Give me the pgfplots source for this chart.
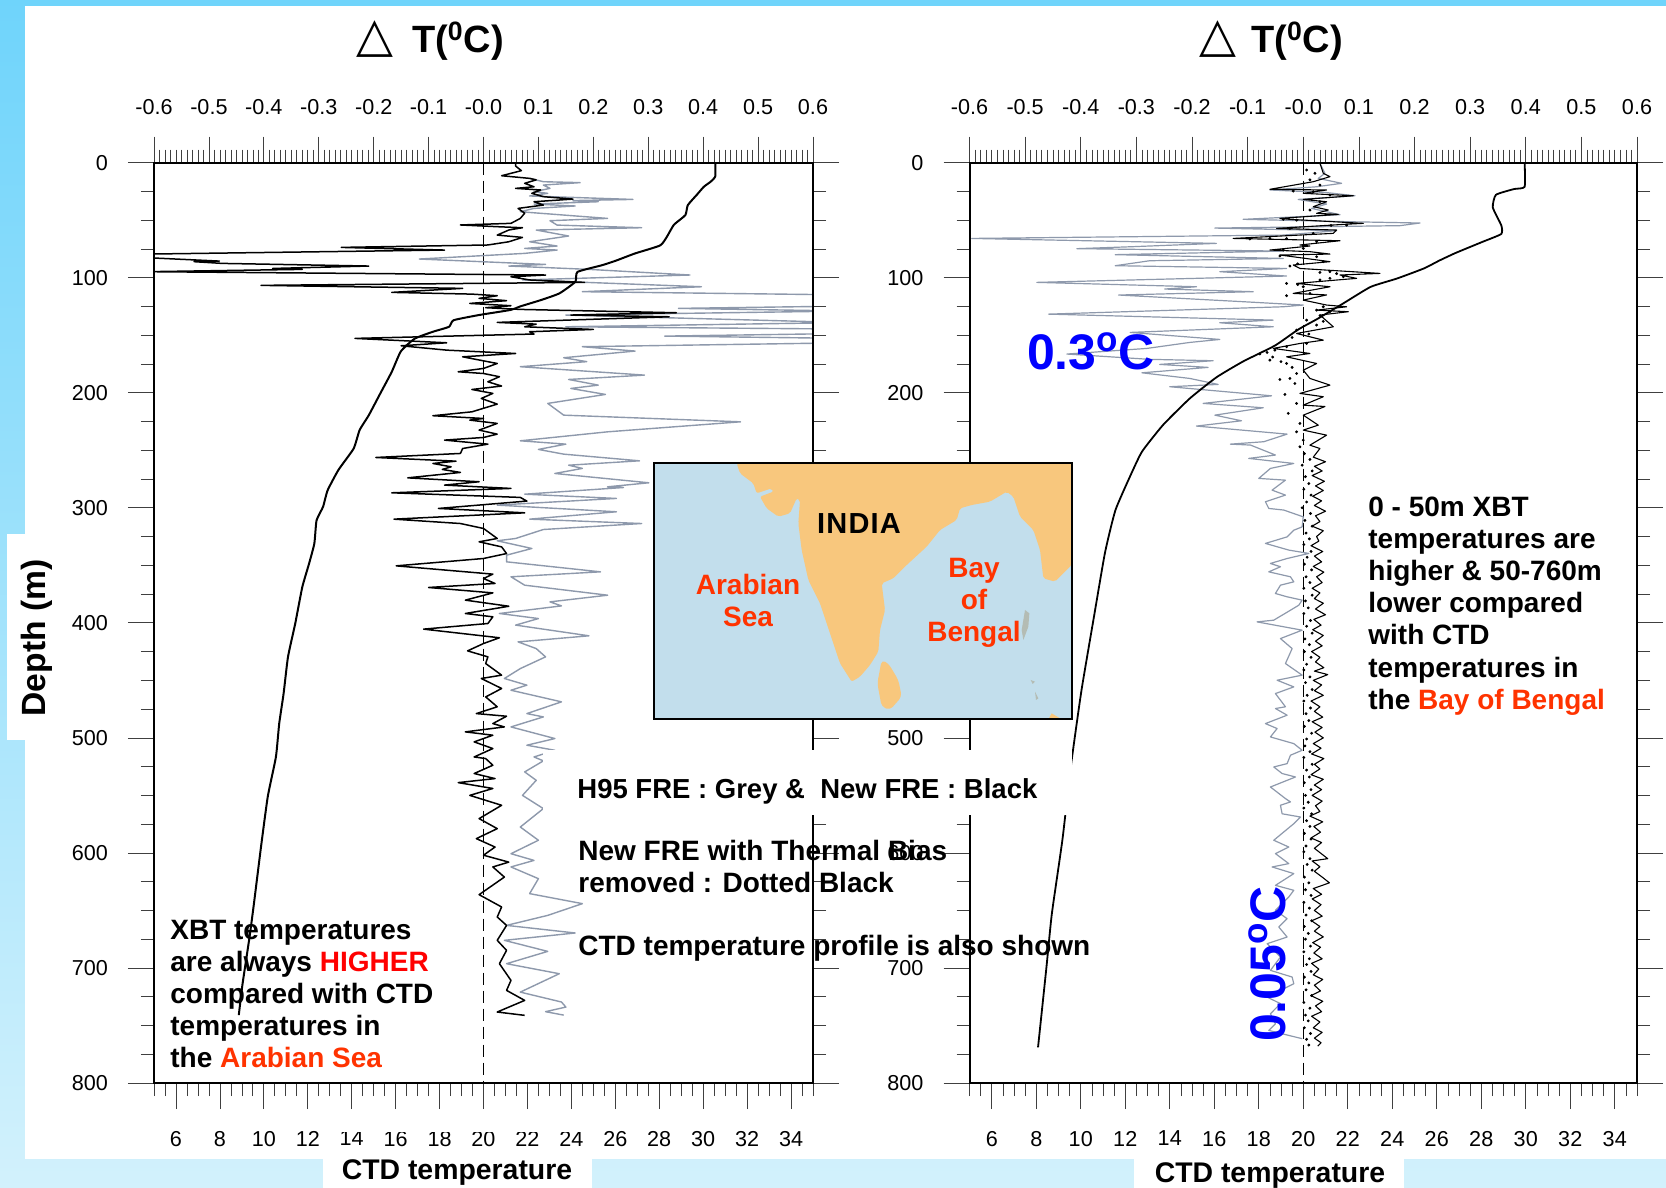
\documentclass[border=0pt]{standalone}
\usepackage{fontspec}
\setmainfont{Liberation Sans}
\newfontfamily\djv{DejaVu Sans}
\usepackage{pgfplots}
\pgfplotsset{compat=1.18}
\definecolor{skytop}{HTML}{6FD4FB}
\definecolor{skybot}{HTML}{D2F1FC}
\definecolor{greyline}{HTML}{8E99AC}
\definecolor{sea}{HTML}{C2DEEC}
\definecolor{land}{HTML}{F8C77D}
\definecolor{orng}{HTML}{FF3300}
\definecolor{isl}{HTML}{B4BCB4}
\newcommand{\tb}{\fontsize{14}{16}\selectfont\bfseries}
\pgfplotsset{
 panel/.style={scale only axis, height=460.2pt, y dir=reverse, ymin=0, ymax=800,
   tick align=outside, major tick length=13pt, minor tick length=6.5pt,
   axis line style={line width=1pt},
   every tick/.style={line width=0.35pt, color=black!75},
   tick label style={font=\fontsize{10.8}{12}\selectfont},
   clip=true},
 bottomaxis/.style={panel, xmin=5, xmax=35,
   xtick={6,8,...,34},
   xticklabels={6,8,10,12,14,16,18,20,22,24,26,28,30,32,34},
   minor xtick={5,5.5,...,35},
   xtick pos=lower, xticklabel pos=lower,
   x tick label style={yshift=-7.5pt},
   ytick={0,100,...,800},
   yticklabels={0,100,200,300,400,500,600,700,800},
   minor ytick={25,50,...,775},
   ytick pos=both, yticklabel pos=left,
   y tick label style={xshift=-6.5pt}},
 topaxis/.style={panel, xmin=-0.6, xmax=0.6,
   xtick={-0.6,-0.5,...,0.61},
   xticklabels={-0.6,-0.5,-0.4,-0.3,-0.2,-0.1,-0.0,0.1,0.2,0.3,0.4,0.5,0.6},
   minor x tick num=9,
   xtick pos=upper, xticklabel pos=upper,
   x tick label style={yshift=7.5pt},
   ytick=\empty, axis line style={line width=1pt}},
}
\begin{document}
\begin{tikzpicture}
\path[use as bounding box] (0,0) rectangle (833pt,594pt);
\begin{scope}[x=0.5pt,y=-0.5pt,yshift=594pt]
\shade[top color=skytop,bottom color=skybot] (0,0) rectangle (1666,1188);
\fill[white] (25,6) rectangle (1666,1159);
\end{scope}

%--------------- LEFT PANEL ----------------
\begin{axis}[topaxis, width=329.5pt, at={(77pt,52.5pt)}, anchor=south west]
\addplot[black, line width=0.4pt, dash pattern=on 6pt off 3pt] coordinates {(0,0)(0,800)};
\addplot[greyline, line width=0.7pt, line join=round] coordinates {
(.084,13.7)(.109,16.6)(.176,17.4)(.109,19.5)(.121,22.4)(.092,25.3)(.117,26.7)(.084,29)(.272,32)(.163,33)(.209,34)(.092,36)(.167,37.7)(.092,39.8)(.067,42.7)(.226,48.5)(.121,50.5)(.134,54.3)(.288,56.6)(.096,58.6)(.155,63.8)(.084,68.8)(.134,72.5)(.075,74.6)(.134,76)(.075,78.9)(-.117,83.8)(.113,88.5)(.046,89.9)(.192,92.8)(.376,97.7)(.071,102)(.397,107.9)(.18,112.2)(.66,115)(.66,124.7)(.355,126.7)(.66,129)(.15,132.5)(.66,139)(.15,142.7)(.66,144.7)(.66,148.5)(.33,150.8)(.66,152.8)(.66,156.6)(.18,160)(.276,163.8)(.146,169.6)(.188,173)(.067,177.4)(.293,184.7)(.155,188.5)(.209,193.4)(.159,196.3)(.222,201.5)(.117,209.3)(.146,219.5)(.468,225.3)(.226,234)(.067,241.8)(.15,244.7)(.1,249.3)(.146,253.4)(.284,259.2)(.155,263)(.18,265.8)(.13,270.2)(.301,278.3)(.226,281.8)(.255,282.4)(.075,288.2)(.242,291.9)(.025,297.7)(.242,303.5)(.084,309.9)(.288,313.7)(.109,318.9)(.0585,326.7)(.025,328.7)(.088,335.4)(.042,341.2)(.042,347)(.213,355.7)(.05,360)(.075,367.3)(.226,376)(.121,381.8)(.142,385.3)(.029,391.9)(.1,396.3)(.0585,402)(.192,411.3)(.063,416.6)(.096,422.4)(.113,429.6)(.067,439.8)(.038,448.4)(.079,454.2)(.05,458.6)(.142,468.7)(.079,478.9)(.109,481.8)(.05,490.5)(.13,500.6)(.079,506.4)(.13,510.8)(.092,516.6)(.109,520)(.075,529.6)(.096,536.9)(.071,550)(.109,561.5)(.067,577.5)(.1,589)(.05,600.7)(.092,606.5)(.05,612.2)(.1,622.4)(.084,635.4)(.18,644.1)(.117,654.3)(.042,663)(.167,669.6)(.038,676)(.117,685.6)(.042,696.3)(.138,705)(.067,721)(.142,729.6)(.15,734)(.113,738)(.146,741)
};
\addplot[black, line width=0.75pt, line join=round] coordinates {
(.0585,0.6)(.0585,3)(.069,7)(.033,11.4)(.084,13.7)(.096,15)(.075,18)(.092,21)(.0585,22.4)(.104,23.8)(.088,26.7)(.109,29.6)(.163,31.7)(.092,34)(.109,36.9)(.063,39.8)(.075,44)(.067,48.5)(.05,52.8)(-.042,54.2)(.025,55.7)(.071,56.6)(.046,58.6)(.025,63)(.071,65)(.046,68.8)(.008,71.6)(-.259,73.7)(-.071,76)(-.61,79.5)(-.61,82.7)(-.481,85.6)(-.527,86.1)(-.476,87.6)(-.209,89.9)(-.384,92)(-.33,92.8)(-.61,94.8)(.113,97.7)(.05,99.2)(.084,102)(.184,104.1)(-.405,106.7)(-.038,109.3)(-.167,112.8)(-.021,114.3)(.025,115.7)(-.008,118)(.042,120)(-.025,122.4)(.05,124.4)(.004,126.1)(.067,127.6)(.351,130.5)(.159,132.5)(.338,134)(.025,138.9)(.096,140.4)(.075,142.7)(.2,145)(.084,147)(.092,149)(-.234,152.8)(-.067,156.6)(-.15,159.2)(-.067,163)(.0585,165.9)(-.038,168.8)(.025,174.6)(0,178.9)(-.046,181.8)(0,183.3)(.029,186.1)(.008,190.5)(.033,194.2)(-.021,197.2)(.017,200.6)(-.004,205)(.025,209.9)(-.021,216.6)(-.092,220)(0,222.4)(-.025,223.8)(.025,226.7)(-.008,232.5)(.025,236)(0,238.9)(-.071,241.2)(.008,244.7)(-.038,248.5)(-.042,252.8)(-.196,256.3)(-.05,259.5)(-.092,261.5)(-.059,264.4)(-.075,266.7)(-.042,269.3)(-.138,274)(-.008,277.4)(-.071,280.3)(.05,283.2)(-.167,287)(.067,291)(.079,294.2)(-.082,300.6)(.075,304.4)(-.163,309.9)(-.042,313.7)(0,318)(.025,326.7)(-.008,329.6)(.033,334)(.042,339.8)(0,344.1)(-.159,350.5)(.017,357.7)(0,361.5)(.021,365.8)(-.1,369.3)(.017,374)(-.033,380.3)(.046,385.6)(-.033,391.9)(.017,394.8)(.008,400.6)(-.109,405.5)(.029,413)(0,418)(-.029,424.4)(.008,429.6)(.004,435.4)(.033,445.5)(-.004,448.4)(.033,457.1)(.004,464.4)(.025,473)(-.013,478.9)(.042,481.2)(.017,487.6)(.038,490.5)(-.033,494.8)(.017,497.7)(-.017,503.5)(.017,509.3)(-.017,516.6)(.004,518)(.017,523.8)(-.017,531)(.021,535.4)(-.046,538.9)(.017,544)(-.025,550)(.033,558.6)(-.008,570.2)(.025,578.9)(-.013,587.6)(.021,594.9)(0,602)(.046,608)(.017,612.2)(.038,621)(-.008,636.3)(.033,647)(.025,655.7)(.042,663)(.025,676)(.042,684.7)(.029,696.3)(.05,710.8)(.042,719.5)(.075,728.2)(.025,738.3)(.075,741.2)
};
\end{axis}
\begin{axis}[bottomaxis, width=329.5pt, at={(77pt,52.5pt)}, anchor=south west]
\addplot[black, line width=1.0pt, smooth, tension=0.3] coordinates {
(30.55,0)(30.55,12)(30.34,16.6)(30.03,21)(29.71,28)(29.3,37)(29.19,45.6)(28.67,54)(28.35,64.4)(28.04,72)(26.89,79)(26.06,85)(25.43,89)(24.28,95)(24.18,103.6)(23.45,113.7)(22.61,119.5)(21.67,125)(21.25,128)(19.79,132.5)(18.64,137)(18.43,142.7)(17.7,147)(16.87,153)(16.24,164)(15.82,182)(15.3,200.7)(14.78,219.5)(14.36,232.5)(14.09,248.5)(13.4,267)(12.9,285)(12.7,299)(12.4,311)(12.3,331)(12.06,348.5)(11.75,369)(11.43,400.6)(11.1,429.6)(10.9,461.5)(10.7,487.6)(10.55,516.6)(10.18,551)(9.87,595)(9.55,644)(9.35,673)(9.03,714)(8.86,741)
};
\end{axis}

%--------------- RIGHT PANEL ----------------
\begin{axis}[topaxis, width=333.75pt, at={(484.75pt,52.5pt)}, anchor=south west]
\addplot[black, line width=0.4pt, dash pattern=on 6pt off 3pt] coordinates {(0,0)(0,800)};
\addplot[greyline, line width=0.6pt, line join=round] coordinates {
(.03,0.6)(.039,9.3)(.027,13.7)(.069,18)(.024,21)(-.06,23.8)(.039,25.9)(.093,28.8)(-.009,32)(.042,36)(.015,39.8)(.045,43)(.066,45.3)(-.108,49.3)(.084,51.4)(.21,52.5)(.174,54.8)(-.159,56.9)(.06,59.2)(-.036,63)(-.596,65.9)(-.156,70.2)(-.308,73.1)(-.407,74.8)(-.036,76.9)(-.338,80)(-.036,83.3)(-.276,85.3)(-.338,89.6)(-.03,92)(-.15,94.8)(-.03,98.6)(-.479,104.1)(-.192,107.9)(-.249,109.9)(-.09,112.2)(-.332,115.1)(-.108,120.9)(0,123.8)(-.036,125.3)(-.458,131.7)(-.054,136.9)(-.15,139.2)(-.054,142.7)(-.311,147.6)(-.15,153.7)(-.204,156.3)(-.281,161.5)(-.425,166.4)(-.276,171)(-.162,172.2)(-.258,175.4)(-.171,178)(-.29,182.7)(-.204,187.6)(-.153,192.8)(-.24,194.8)(-.057,202.7)(-.18,209.3)(-.072,213.1)(-.159,219.5)(-.111,224.4)(-.192,229)(-.029,236)(-.071,242.6)(-.131,244.7)(-.095,245.5)(-.05,254.2)(-.098,257.1)(-.017,261.5)(-.059,265.8)(-.08,274.5)(-.032,276)(-.056,284.7)(-.032,289)(-.068,294.8)(-.062,300.6)(-.035,302)(0,307.9)(-.002,316.6)(-.017,319.5)(-.029,325.3)(-.068,331)(-.026,336.8)(.01,339.7)(-.029,344.1)(-.059,348.4)(-.041,351.3)(-.062,355.7)(-.023,360)(-.017,364.4)(-.041,367.3)(-.05,374.5)(-.029,377.4)(-.002,380.3)(-.008,384.7)(-.053,397.7)(-.083,399.2)(-.002,406.4)(-.041,413.7)(-.02,422.4)(-.032,435.4)(-.002,445.5)(-.047,449.9)(-.017,455.7)(-.05,461.5)(-.032,473)(-.05,474.5)(-.029,480.3)(-.068,487.6)(-.047,491.9)(-.059,499.2)(-.017,505)(-.002,510.8)(-.023,515.1)(-.029,522.4)(-.053,525.3)(-.038,531)(-.014,534)(-.059,542.7)(-.032,552.8)(-.023,555.7)(-.041,558.6)(-.038,566)(-.005,568.8)(-.017,574.6)(-.035,581.8)(-.053,589)(-.026,594.9)(-.05,600.6)(-.026,609.3)(-.056,612.2)(-.017,618)(-.05,628.2)(-.017,632.5)(-.026,638.3)(-.05,649.9)(-.029,657.2)(-.044,664.4)(-.029,673.1)(-.065,678.9)(-.041,690.5)(-.059,702.1)(-.02,707.9)(-.017,713.7)(-.065,725.3)(-.041,731)(-.059,739.8)(-.05,748.5)(-.062,754.3)(-.002,761.5)
};
\addplot[black, line width=0.55pt, line join=round] coordinates {
(.03,0.6)(.036,9.3)(.048,12.2)(.018,16.6)(-.06,23.2)(.042,23.8)(0,26.7)(.09,28.8)(0,32)(.042,34)(.018,38.3)(.045,41.2)(.024,44.1)(.063,45)(-.042,48.5)(-.024,49.3)(.108,52.8)(.072,53.7)(-.048,57.2)(.06,58.6)(.054,61.5)(-.126,65.9)(.066,67.9)(-.006,71.6)(.012,72.5)(-.06,76)(.012,77.4)(.048,79.5)(-.042,80.3)(.048,86.1)(-.018,89)(-.006,92)(.138,96.3)(.066,97.7)(.096,100.6)(-.012,105)(.048,107.9)(-.018,113.7)(.042,115)(0,119.5)(.042,123.8)(.078,125.3)(.024,128.2)(.081,129.6)(.03,132.5)(.054,142.7)(-.012,148.5)(.036,154.3)(-.006,157.2)(-.054,161.5)(.012,165.9)(-.03,168.8)(.024,174.6)(0,180.4)(.012,187.6)(.048,193.4)(-.006,200.6)(.036,203.5)(0,210.8)(.039,212)(0,219.5)(.027,228.2)(0,232.5)(.042,236.9)(.012,245.6)(.03,248.5)
(.018,256)(.04,260)(.02,264)(.034,268)(.016,272)(.038,277)(.022,281)(.036,285)(.017,290)(.033,294)(.02,298)(.04,303)(.022,307)(.03,312)(.016,316)(.036,320)(.024,325)(.028,329)(.014,333)(.035,338)(.02,342)(.033,347)(.018,351)(.037,356)(.024,360)(.034,365)(.016,370)(.03,374)(.02,379)(.036,383)(.022,388)(.04,393)(.019,397)(.032,402)(.017,406)(.036,411)(.022,416)(.034,420)(.015,425)(.03,430)(.022,434)(.037,439)(.02,442)(.044,445)(.018,450)(.033,454)(.02,459)(.036,463)(.014,468)(.03,473)(.02,477)(.035,482)(.016,486)(.034,491)(.021,495)(.036,500)(.018,505)(.032,509)(.015,514)(.037,518)(.02,523)(.03,527)(.014,532)(.036,536)(.02,541)(.033,545)(.016,550)(.034,555)(.022,559)(.03,564)(.012,568)(.035,573)(.019,577)(.031,582)(.014,587)(.033,591)(.02,596)(.044,605)(.016,607)(.03,612)(.02,616)(.034,621)(.047,626)(.018,631)(.033,636)(.016,640)(.032,645)(.02,650)(.034,655)(.015,659)(.03,664)(.02,668)(.036,673)(.017,678)(.031,682)(.019,687)(.034,692)(.015,696)(.028,701)(.018,706)(.035,710)(.02,715)(.031,720)(.014,724)(.035,729)(.022,733)(.033,738)(.015,742)(.03,747)(.018,752)(.034,756)(.02,761)(.032,765)(.026,768)
};
\addplot[only marks, mark=*, mark size=0.5pt, black] coordinates {
(.006,6.4)(.021,9.3)(.012,15)(.03,19.5)(-.018,24.7)(.018,25.3)(.048,28.2)(.03,34)(.012,41.2)(-.036,49.3)(-.012,50)(.078,54.3)(.05,54.6)(-.024,57.2)(.018,61.5)(-.06,65.9)(-.096,66.4)(-.03,66)(.024,68.8)(0,74.6)(-.036,76)(-.042,81.2)(.024,81.8)(.036,86.1)(-.024,89.9)(-.01,88)(.048,94.8)(.03,95.5)(.06,96.5)(.072,99.2)(.048,100.6)(.03,102)(-.03,105)(-.01,106)(0,107.9)(.012,113.7)(-.03,115.7)(.036,125.3)(.024,128.2)(.048,129.6)(.03,133)(.006,136.9)(.024,141.2)(.036,138)(-.012,145.6)(.01,149)(-.02,152)(.006,157.2)(-.03,160)(-.051,163)(-.078,166.4)(-.065,165)(-.06,171.7)(-.055,169)(-.04,173)(-.03,174.6)(-.02,178)(-.012,183.3)(-.024,187.6)(-.042,188.5)(-.015,192)(-.033,201.5)(-.012,209.3)(-.027,218)(-.006,226.7)(-.012,234)(0,241.2)(-.006,247)
(.002,253)(.012,258)(-.002,263)(.016,268)(.004,273)(.01,279)(.001,284)(.014,289)(.006,295)(-.002,300)(.013,305)(.003,311)(.016,316)(.005,322)(.011,327)(.001,332)(.014,338)(.007,343)(.002,349)(.015,354)(.005,360)(.012,365)(.001,370)(.016,376)(.004,381)(.009,387)(.001,392)(.013,398)(.006,403)(.016,409)(.003,414)(.011,419)(.002,425)(.014,430)(.006,436)(.001,441)(.012,447)(.004,452)(.016,458)(.007,463)(.001,468)(.013,474)(.005,479)(.01,485)(.002,490)(.015,496)(.006,501)(.003,507)(.012,512)(.001,517)(.016,523)(.006,528)(.011,534)(.002,539)(.014,545)(.004,550)(.009,556)(.001,561)(.015,566)(.006,572)(.012,577)(.002,583)(.014,588)(.005,594)(.001,599)(.012,605)(.007,610)(.016,615)(.002,621)(.01,626)(.004,632)(.014,637)(.001,643)(.011,648)(.005,654)(.015,659)(.002,664)(.009,670)(.004,675)(.013,681)(.001,686)(.011,692)(.006,697)(.014,703)(.002,708)(.01,713)(.005,719)(.015,724)(.001,730)(.012,735)(.004,741)(.009,746)(.002,752)(.013,757)(.006,762)(.01,767)
};
\end{axis}
\begin{axis}[bottomaxis, width=333.75pt, at={(484.75pt,52.5pt)}, anchor=south west]
\addplot[black, line width=0.9pt, smooth, tension=0.3] coordinates {
(29.95,0)(29.95,21)(29.47,23)(28.66,28)(28.52,39)(28.9,54.5)(28.9,62)(28.04,69)(26.85,78.5)(26.13,85)(25.42,92)(24.22,100.7)(23.03,108)(21.83,122)(20.64,135.8)(19.78,145)(18.73,159)(17.3,172.8)(16.1,186.6)(14.9,205)(13.7,228)(12.76,251)(12.28,270)(11.56,302)(11.09,339)(10.6,394)(10.03,459)(9.56,524)(9.18,588)(8.7,653)(8.46,699)(8.08,769)
};
\end{axis}

%--------------- PATCHES, MAP, TEXT ----------------
\begin{scope}[x=0.5pt,y=-0.5pt,yshift=594pt]
\fill[white] (543,750) rectangle (1072,815);
\fill[white] (7,534) rectangle (60,740);
\fill[white] (323,1158) rectangle (592,1188);
\fill[white] (1134,1158) rectangle (1404,1188);
\fill[white] (341,1118) rectangle (585,1132);

% map
\fill[sea] (654,463) rectangle (1072,719);
\begin{scope}[shift={(640,450)},x=0.1666667pt,y=-0.1666667pt]
\fill[land,rounded corners=1pt] (290,40)--(300,70)--(340,100)--(350,130)--(395,115)--(400,125)--(360,140)--(380,175)--(415,200)--(450,190)--(470,145)--(480,150)--(475,220)--(485,300)--(505,390)--(540,460)--(570,550)--(600,640)--(635,695)--(660,680)--(690,645)--(715,605)--(720,540)--(735,480)--(725,400)--(760,385)--(800,345)--(860,290)--(900,240)--(950,210)--(960,175)--(995,165)--(1050,155)--(1100,125)--(1120,140)--(1140,200)--(1180,240)--(1200,300)--(1210,385)--(1245,395)--(1295,345)--(1295,40)--cycle;
\fill[land,rounded corners=2pt] (725,630)--(745,640)--(775,690)--(785,740)--(750,780)--(725,770)--(712,700)--cycle;
\fill[land] (1235,790)--(1265,808)--(1225,808)--cycle;
\fill[isl] (1155,480)--(1168,490)--(1165,530)--(1150,570)--(1145,540)--cycle;
\fill[isl] (1185,725)--(1195,745)--(1188,750)--cycle;
\fill[isl] (1172,690)--(1185,695)--(1178,702)--cycle;
\end{scope}
\draw[black,line width=1pt] (654,463) rectangle (1072,719);
\node[anchor=center,inner sep=0pt,font=\fontsize{14.5}{16}\selectfont\bfseries] at (859,524) {I\kern0.6pt N\kern0.6pt D\kern0.6pt I\kern0.6pt A};
\node[anchor=center,inner sep=0pt,align=center,text=orng,font=\tb] at (748,601) {Arabian\\[0pt]Sea};
\node[anchor=center,inner sep=0pt,align=center,text=orng,font=\tb] at (974,603) {Bay\\[0pt]of\\[0pt]Bengal};

% titles
\node[inner sep=0pt,font=\fontsize{24}{26}\djv] at (375,39) {△};
\node[inner sep=0pt,font=\fontsize{19}{20}\selectfont\bfseries] at (458,41) {T(\textsuperscript{0}C)};
\node[inner sep=0pt,font=\fontsize{24}{26}\djv] at (1218,39) {△};
\node[inner sep=0pt,font=\fontsize{19}{20}\selectfont\bfseries] at (1297,41) {T(\textsuperscript{0}C)};

\node[rotate=90,inner sep=0pt,font=\fontsize{16.8}{18}\selectfont\bfseries] at (37,638) {Depth (m)};
\node[inner sep=0pt,font=\fontsize{14.2}{16}\selectfont\bfseries] at (457,1173) {CTD temperature};
\node[inner sep=0pt,font=\fontsize{14.2}{16}\selectfont\bfseries] at (1270,1176) {CTD temperature};

% annotations
\node[anchor=base west,inner sep=0pt,font=\tb] at (170,940) {XBT temperatures};
\node[anchor=base west,inner sep=0pt,font=\tb] at (170,972) {are always \textcolor{red}{HIGHER}};
\node[anchor=base west,inner sep=0pt,font=\tb] at (170,1004) {compared with CTD};
\node[anchor=base west,inner sep=0pt,font=\tb] at (170,1036) {temperatures in};
\node[anchor=base west,inner sep=0pt,font=\tb] at (170,1068) {the \textcolor{orng}{Arabian Sea}};

\node[anchor=base west,inner sep=0pt,font=\fontsize{13.75}{16}\selectfont\bfseries] at (577,799) {H95 FRE : Grey \&\ \ New FRE : Black};
\node[anchor=base west,inner sep=0pt,font=\tb] at (578,861) {New FRE with Thermal Bias};
\node[anchor=base west,inner sep=0pt,font=\tb] at (578,893) {removed : Dotted Black};
\node[anchor=base west,inner sep=0pt,font=\tb] at (578,956) {CTD temperature profile is also shown};

\node[anchor=base west,inner sep=0pt,font=\tb] at (1368,517) {0 - 50m XBT};
\node[anchor=base west,inner sep=0pt,font=\tb] at (1368,549) {temperatures are};
\node[anchor=base west,inner sep=0pt,font=\tb] at (1368,581) {higher \& 50-760m};
\node[anchor=base west,inner sep=0pt,font=\tb] at (1368,613) {lower compared};
\node[anchor=base west,inner sep=0pt,font=\tb] at (1368,645) {with CTD};
\node[anchor=base west,inner sep=0pt,font=\tb] at (1368,678) {temperatures in};
\node[anchor=base west,inner sep=0pt,font=\tb] at (1368,710) {the \textcolor{orng}{Bay of Bengal}};

\node[inner sep=0pt,text=blue,font=\fontsize{25}{27}\selectfont\bfseries] at (1091,351) {0.3\textsuperscript{o}C};
\node[rotate=90,inner sep=0pt,text=blue,font=\fontsize{25}{27}\selectfont\bfseries] at (1267,964) {0.05\textsuperscript{o}C};
\end{scope}
\end{tikzpicture}
\end{document}
